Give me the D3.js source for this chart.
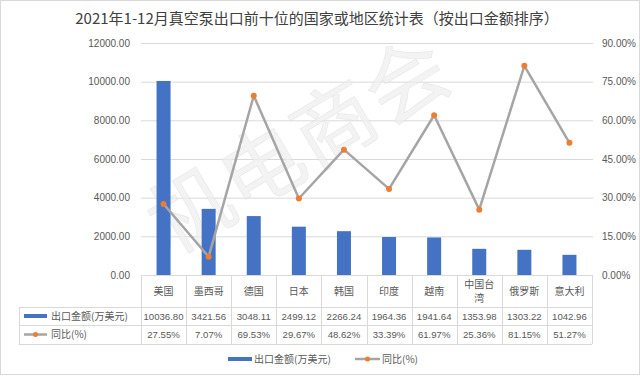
<!DOCTYPE html>
<html lang="zh">
<head>
<meta charset="utf-8">
<title>真空泵出口统计</title>
<script src="https://d3js.org/d3.v7.min.js"></script>
<style>
    body { margin: 0; background: #fff; }
    svg { display: block; font-family: "Noto Sans CJK SC", "Liberation Sans", sans-serif; }
</style>
</head>
<body>
<div id="chart"></div>
<script>
"use strict";
var countries = ["美国", "墨西哥", "德国", "日本", "韩国", "印度", "越南", "中国台湾", "俄罗斯", "意大利"];
var amounts = [10036.80, 3421.56, 3048.11, 2499.12, 2266.24, 1964.36, 1941.64, 1353.98, 1303.22, 1042.96];
var yoy = [27.55, 7.07, 69.53, 29.67, 48.62, 33.39, 61.97, 25.36, 81.15, 51.27];
var leftTicks = [0, 2000, 4000, 6000, 8000, 10000, 12000];
var rightTicks = [0, 15, 30, 45, 60, 75, 90];
var seriesNames = ["出口金额(万美元)", "同比(%)"];
var title = "2021年1-12月真空泵出口前十位的国家或地区统计表（按出口金额排序）";

var width = 640, height = 376;
var plotLeft = 141, plotRight = 592, plotTop = 43, plotBottom = 275;
var tableLeft = 19, row1 = 307, row2 = 325, row3 = 344;
var barColor = "#4472C4", lineColor = "#A5A5A5", dotColor = "#ED7D31";
var textColor = "#595959", gridColor = "#d9d9d9";

var svg = d3.select("#chart").append("svg")
    .attr("width", width)
    .attr("height", height);

svg.append("rect")
    .attr("x", 0.5).attr("y", 0.5)
    .attr("width", width - 1).attr("height", height - 2)
    .attr("fill", "#fff")
    .attr("stroke", gridColor);

svg.append("text")
    .attr("x", 317).attr("y", 24)
    .attr("text-anchor", "middle")
    .attr("font-size", 15)
    .attr("fill", "#404040")
    .text(title);

var x = d3.scaleBand().domain(countries).range([plotLeft, plotRight]).padding(0);
var yL = d3.scaleLinear().domain([0, 12000]).range([plotBottom, plotTop]);
var yR = d3.scaleLinear().domain([0, 90]).range([plotBottom, plotTop]);

// grid
svg.append("g").selectAll("line")
    .data(leftTicks.slice(1))
    .join("line")
    .attr("x1", plotLeft).attr("x2", plotRight + 1)
    .attr("y1", d => yL(d) + 0.5).attr("y2", d => yL(d) + 0.5)
    .attr("stroke", gridColor);

// left axis
var axL = svg.append("g")
    .attr("transform", "translate(" + (plotLeft - 11) + ",0)")
    .call(d3.axisLeft(yL).tickValues(leftTicks).tickFormat(d3.format(".2f")).tickSize(0).tickPadding(0));
axL.select(".domain").remove();
axL.selectAll("text").attr("fill", textColor).attr("font-size", 10).attr("font-family", "Liberation Sans, sans-serif");

// right axis
var axR = svg.append("g")
    .attr("transform", "translate(" + (plotRight + 10) + ",0)")
    .call(d3.axisRight(yR).tickValues(rightTicks).tickFormat(d => d3.format(".2f")(d) + "%").tickSize(0).tickPadding(0));
axR.select(".domain").remove();
axR.selectAll("text").attr("fill", textColor).attr("font-size", 10).attr("font-family", "Liberation Sans, sans-serif");

// watermark
svg.append("text")
    .attr("transform", "translate(296,140) rotate(-31)")
    .attr("text-anchor", "middle")
    .attr("dominant-baseline", "central")
    .attr("font-size", 82)
    .attr("letter-spacing", 2)
    .attr("fill", "#efefef")
    .attr("stroke", "#dddddd")
    .attr("stroke-width", 0.6)
    .attr("opacity", 0.7)
    .text("机电商会");

// bars
var barW = 14;
svg.append("g").selectAll("rect")
    .data(amounts)
    .join("rect")
    .attr("x", (d, i) => x(countries[i]) + x.bandwidth() / 2 - barW / 2)
    .attr("y", d => yL(d))
    .attr("width", barW)
    .attr("height", d => plotBottom - yL(d))
    .attr("fill", barColor);

// line
var line = d3.line()
    .x((d, i) => x(countries[i]) + x.bandwidth() / 2)
    .y(d => yR(d));
svg.append("path")
    .datum(yoy)
    .attr("d", line)
    .attr("fill", "none")
    .attr("stroke", lineColor)
    .attr("stroke-width", 2.5)
    .attr("stroke-linejoin", "round");
svg.append("g").selectAll("circle")
    .data(yoy)
    .join("circle")
    .attr("cx", (d, i) => x(countries[i]) + x.bandwidth() / 2)
    .attr("cy", d => yR(d))
    .attr("r", 3)
    .attr("fill", dotColor);

// data table
var tbl = svg.append("g").attr("stroke", gridColor).attr("stroke-width", 1);
tbl.append("line").attr("x1", plotLeft).attr("x2", plotRight).attr("y1", plotBottom + 0.5).attr("y2", plotBottom + 0.5);
[row1, row2, row3].forEach(function(r) {
    tbl.append("line").attr("x1", tableLeft).attr("x2", plotRight).attr("y1", r + 0.5).attr("y2", r + 0.5);
});
tbl.append("line").attr("x1", tableLeft + 0.5).attr("x2", tableLeft + 0.5).attr("y1", row1).attr("y2", row3);
countries.forEach(function(c) {
    var xx = Math.round(x(c)) + 0.5;
    tbl.append("line").attr("x1", xx).attr("x2", xx).attr("y1", plotBottom).attr("y2", row3);
});
tbl.append("line").attr("x1", plotRight + 0.5).attr("x2", plotRight + 0.5).attr("y1", plotBottom).attr("y2", row3);

var cells = svg.append("g").attr("fill", textColor).attr("font-size", 10).attr("text-anchor", "middle");
countries.forEach(function(c, i) {
    var cx = x(c) + x.bandwidth() / 2;
    if (c.length > 3) {
        cells.append("text").attr("x", cx).attr("y", 288).text(c.slice(0, 3));
        cells.append("text").attr("x", cx).attr("y", 302).text(c.slice(3));
    } else {
        cells.append("text").attr("x", cx).attr("y", 295).text(c);
    }
    cells.append("text").attr("x", cx).attr("y", 320).attr("font-family", "Liberation Sans, sans-serif")
        .attr("font-size", 9.6).text(d3.format(".2f")(amounts[i]));
    cells.append("text").attr("x", cx).attr("y", 338).attr("font-family", "Liberation Sans, sans-serif")
        .attr("font-size", 9.6).text(d3.format(".2f")(yoy[i]) + "%");
});

// table row keys
svg.append("rect").attr("x", 24).attr("y", 314).attr("width", 23).attr("height", 4).attr("fill", barColor);
svg.append("text").attr("x", 51).attr("y", 320).attr("font-size", 10).attr("fill", textColor).text(seriesNames[0]);
svg.append("line").attr("x1", 24).attr("x2", 47).attr("y1", 334.5).attr("y2", 334.5).attr("stroke", lineColor).attr("stroke-width", 2.5);
svg.append("circle").attr("cx", 35.5).attr("cy", 334.5).attr("r", 2.5).attr("fill", dotColor);
svg.append("text").attr("x", 51).attr("y", 338).attr("font-size", 10).attr("fill", textColor).text(seriesNames[1]);

// legend
var lg = svg.append("g");
lg.append("rect").attr("x", 228).attr("y", 357).attr("width", 24).attr("height", 4).attr("fill", barColor);
lg.append("text").attr("x", 254).attr("y", 363).attr("font-size", 10).attr("fill", textColor).text(seriesNames[0]);
lg.append("line").attr("x1", 355).attr("x2", 380).attr("y1", 359).attr("y2", 359).attr("stroke", lineColor).attr("stroke-width", 2.5);
lg.append("circle").attr("cx", 367.5).attr("cy", 359).attr("r", 2.5).attr("fill", dotColor);
lg.append("text").attr("x", 382).attr("y", 363).attr("font-size", 10).attr("fill", textColor).text(seriesNames[1]);
</script>
</body>
</html>
